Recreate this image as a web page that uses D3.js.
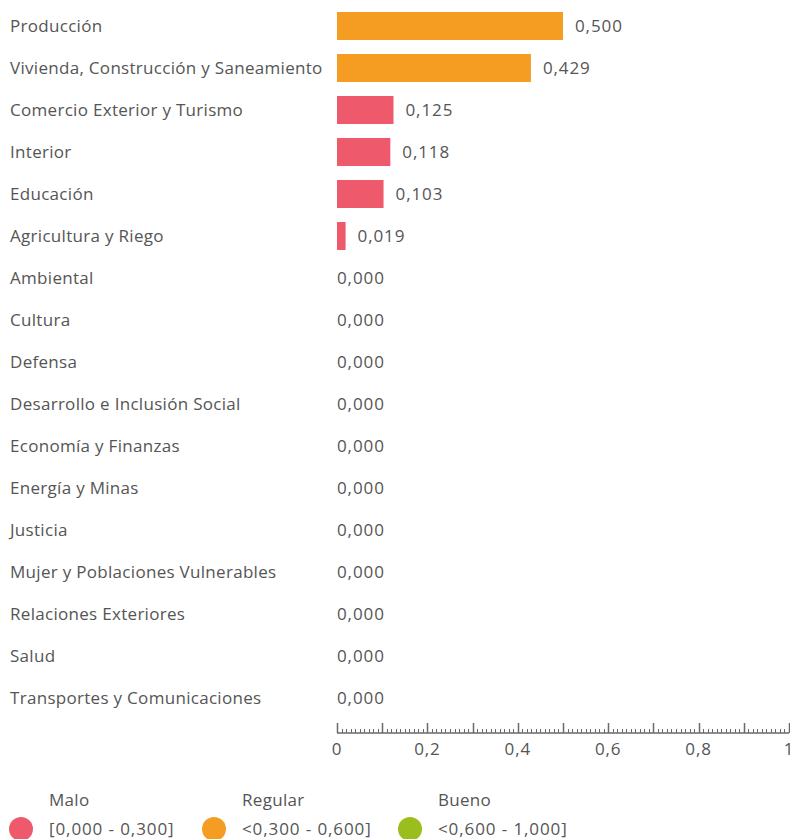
<!DOCTYPE html>
<html>
<head>
<meta charset="utf-8">
<script src="https://cdn.jsdelivr.net/npm/d3@7"></script>
<style>
html, body { margin: 0; padding: 0; background: #fff; }
svg { display: block; font-family: "Open Sans", "DejaVu Sans", sans-serif; }
</style>
</head>
<body>
<svg id="chart" width="790" height="839"></svg>
<script>
const categories = [
  "Producción",
  "Vivienda, Construcción y Saneamiento",
  "Comercio Exterior y Turismo",
  "Interior",
  "Educación",
  "Agricultura y Riego",
  "Ambiental",
  "Cultura",
  "Defensa",
  "Desarrollo e Inclusión Social",
  "Economía y Finanzas",
  "Energía y Minas",
  "Justicia",
  "Mujer y Poblaciones Vulnerables",
  "Relaciones Exteriores",
  "Salud",
  "Transportes y Comunicaciones"
];
const values = [0.500, 0.429, 0.125, 0.118, 0.103, 0.019, 0, 0, 0, 0, 0, 0, 0, 0, 0, 0, 0];
const tickValues = [0, 0.2, 0.4, 0.6, 0.8, 1];
const legendNames = ["Malo", "Regular", "Bueno"];
const legendRanges = ["[0,000 - 0,300]", "<0,300 - 0,600]", "<0,600 - 1,000]"];
const legendThresholds = [0.3, 0.6];
const legendColors = ["#EE5A6C", "#F59D23", "#9BBE1F"];

const svg = d3.select("#chart");
const textColor = "#555555";
const fmt = v => d3.format(".3f")(v).replace(".", ",");
const fmtTick = v => (v === 0 || v === 1) ? String(v) : String(v).replace(".", ",");

const x = d3.scaleLinear().domain([0, 1]).range([337, 789]);
const y = d3.scaleBand().domain(categories).range([5, 719]).paddingInner(1/3).paddingOuter(1/6);
const color = d3.scaleThreshold().domain(legendThresholds).range(legendColors);

const data = categories.map((c, i) => ({ c, v: values[i] }));

const rows = svg.append("g").selectAll("g").data(data).join("g");

rows.append("text")
  .attr("x", 10)
  .attr("y", d => y(d.c) + y.bandwidth() / 2)
  .attr("dy", "0.35em")
  .attr("fill", textColor)
  .attr("font-size", 17)
  .attr("letter-spacing", 0.3)
  .text(d => d.c);

rows.filter(d => d.v > 0).append("rect")
  .attr("x", x(0))
  .attr("y", d => y(d.c))
  .attr("width", d => x(d.v) - x(0))
  .attr("height", y.bandwidth())
  .attr("fill", d => color(d.v));

rows.append("text")
  .attr("x", d => x(d.v) + (d.v > 0 ? 12 : 0))
  .attr("y", d => y(d.c) + y.bandwidth() / 2)
  .attr("dy", "0.35em")
  .attr("fill", textColor)
  .attr("font-size", 17)
  .attr("letter-spacing", 0.9)
  .text(d => fmt(d.v));

// axis
const axisY = 733;
const axisG = svg.append("g").attr("transform", `translate(0,${axisY})`);
axisG.append("line")
  .attr("x1", x(0)).attr("x2", x(1))
  .attr("stroke", "#6a6a6a").attr("stroke-width", 1.6);
const minor = d3.range(0, 101).map(i => i / 100);
axisG.selectAll("line.tick").data(minor).join("line")
  .attr("class", "tick")
  .attr("x1", d => Math.round(x(d)) + 0.5).attr("x2", d => Math.round(x(d)) + 0.5)
  .attr("y1", 0)
  .attr("y2", (d, i) => i % 10 === 0 ? -10 : -4)
  .attr("stroke", "#6a6a6a").attr("stroke-width", (d, i) => i % 10 === 0 ? 1.5 : 1);
axisG.selectAll("text").data(tickValues).join("text")
  .attr("x", d => x(d))
  .attr("y", 16)
  .attr("dy", "0.35em")
  .attr("text-anchor", "middle")
  .attr("fill", textColor)
  .attr("font-size", 17)
  .attr("letter-spacing", 0.9)
  .text(fmtTick);

// legend
const legendX = [21, 214, 410];
const lg = svg.append("g").selectAll("g").data(legendNames).join("g")
  .attr("transform", (d, i) => `translate(${legendX[i]},0)`);
lg.append("text")
  .attr("x", 28).attr("y", 800).attr("dy", "0.35em")
  .attr("fill", textColor).attr("font-size", 17).attr("letter-spacing", 0.3)
  .text(d => d);
lg.append("circle")
  .attr("cx", 0).attr("cy", 829).attr("r", 12)
  .attr("fill", (d, i) => legendColors[i]);
lg.append("text")
  .attr("x", 28).attr("y", 829).attr("dy", "0.35em")
  .attr("fill", textColor).attr("font-size", 17).attr("letter-spacing", 0.9)
  .text((d, i) => legendRanges[i]);
</script>
</body>
</html>
